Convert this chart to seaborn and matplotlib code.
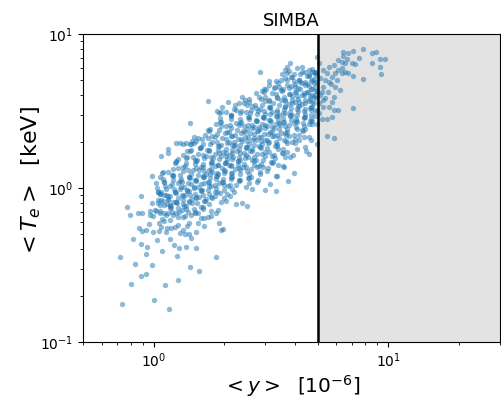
import matplotlib
matplotlib.use("Agg")
import matplotlib.pyplot as plt
import seaborn as sns
import pandas as pd

# ---- data (x: <y> [1e-6], y: <T_e> [keV]) ----
edge_x = [0.73, 0.72, 0.80, 0.83, 0.88, 0.93, 0.98, 1.00, 1.12, 1.16, 1.27, 1.43, 1.56, 1.84, 1.26,
          0.82, 0.88, 0.94, 0.93, 1.09, 1.03, 1.17, 1.22, 1.28, 1.38, 1.51, 0.77, 0.79, 0.86, 0.89,
          0.97, 0.97, 0.87, 0.89, 0.99, 1.05, 1.07, 1.11, 1.15, 1.20, 1.05, 1.08, 1.14, 1.19, 1.23,
          1.17, 1.27, 1.32, 1.40, 1.39, 1.42, 1.44, 1.54, 1.64, 1.71, 1.84, 1.90, 1.94, 1.98, 1.88,
          1.54, 1.29, 1.36, 0.88, 0.98, 1.04, 1.06, 1.08, 1.11, 1.15, 1.17, 1.21, 1.11, 0.98, 1.06,
          1.08, 1.15, 1.15, 1.25, 1.29, 1.33, 1.37, 1.43, 1.49, 1.43, 1.49, 1.54, 1.70, 1.86, 1.95,
          2.08, 2.22, 2.39, 2.45, 2.60, 2.84, 2.96, 3.69, 3.83, 3.71, 4.29, 4.58, 4.73, 4.99, 4.61,
          4.48, 4.69, 3.96, 3.75, 3.33, 2.99, 2.64, 2.51, 2.39, 2.24, 2.03, 3.31, 3.37, 3.13, 3.60,
          3.83, 3.65, 4.02, 4.16, 4.44, 4.29, 4.58]
edge_y = [0.176, 0.356, 0.238, 0.32, 0.267, 0.277, 0.318, 0.187, 0.235, 0.165, 0.254, 0.305, 0.288, 0.355, 0.36,
          0.464, 0.433, 0.412, 0.372, 0.39, 0.457, 0.469, 0.427, 0.408, 0.416, 0.41, 0.749, 0.665, 0.688, 0.685,
          0.713, 0.671, 0.55, 0.528, 0.521, 0.526, 0.692, 0.692, 0.685, 0.695, 0.596, 0.556, 0.553, 0.547, 0.556,
          0.62, 0.645, 0.72, 0.702, 0.566, 0.505, 0.476, 0.692, 0.636, 0.645, 0.692, 0.59, 0.534, 0.544, 0.72,
          0.596, 0.513, 0.50, 0.892, 0.795, 0.803, 0.919, 0.937, 0.901, 0.848, 0.776, 0.815, 0.776, 1.20, 1.185,
          1.62, 1.70, 1.79, 1.95, 1.95, 1.94, 1.95, 1.94, 1.97, 2.64, 2.15, 2.11, 3.67, 3.18, 3.34,
          3.63, 3.44, 3.92, 3.73, 3.21, 5.66, 4.39, 6.14, 6.51, 5.56, 6.14, 5.84, 5.70, 1.93, 1.67,
          1.74, 2.05, 1.245, 1.11, 0.951, 0.971, 0.985, 0.768, 0.795, 0.784, 0.82, 1.20, 1.197, 1.056, 1.37,
          1.58, 1.58, 1.95, 2.05, 1.855, 2.38, 2.59]

high_x = [4.99, 5.05, 5.48, 5.90, 7.09, 6.10, 5.90, 5.75, 5.48, 5.22, 5.05, 5.30, 5.61, 5.79, 5.87,
          5.39, 5.22, 5.30, 5.57, 5.75, 5.94, 6.14, 6.34, 6.55, 6.77, 7.11, 7.84, 7.22, 7.51, 7.84,
          7.09, 6.45, 6.77, 6.14, 6.34, 6.66, 6.99, 8.50, 8.92, 9.22, 9.68, 8.50, 9.22, 9.37, 6.04,
          6.24, 5.53, 5.39, 5.14, 5.30, 5.57, 5.85, 5.30, 5.05, 6.55, 6.34, 5.94, 5.48, 5.14, 5.70, 6.40]
high_y = [7.13, 6.45, 2.17, 2.11, 3.29, 3.21, 3.21, 2.91, 2.82, 2.81, 3.05, 3.38, 3.34, 3.63, 3.92,
          3.83, 4.22, 4.55, 4.90, 5.28, 5.56, 5.84, 5.99, 5.70, 5.56, 5.34, 5.13, 6.38, 6.96, 7.95,
          7.79, 7.67, 7.49, 6.78, 6.62, 6.85, 6.45, 7.49, 7.67, 6.93, 6.87, 6.51, 6.14, 5.50, 5.03,
          4.33, 4.22, 5.03, 5.16, 5.84, 6.14, 6.29, 3.73, 3.55, 6.45, 5.56, 4.55, 5.56, 4.02, 4.70, 7.20]

core_x = [3.77, 4.09, 4.44, 4.73, 4.92,
          3.53, 3.89, 4.22, 4.58, 4.89,
          3.31, 3.65, 3.96, 4.16, 4.44, 4.73, 4.92,
          3.10, 3.42, 3.71, 4.02, 4.29, 4.58, 4.81,
          2.95, 3.26, 3.53, 3.77, 4.02, 4.22, 4.51, 4.73, 4.92,
          2.72, 3.00, 3.31, 3.59, 3.83, 4.09, 4.36, 4.66, 4.89,
          2.55, 2.86, 3.10, 3.36, 3.65, 3.89, 4.16, 4.44, 4.73, 4.92,
          2.31, 2.64, 2.91, 3.15, 3.42, 3.65, 3.89, 4.16, 4.44, 4.73,
          2.03, 2.24, 2.47, 2.72, 2.95, 3.15, 3.36, 3.59, 3.83, 4.09, 4.36, 4.66, 4.89,
          1.90, 2.13, 2.34, 2.54, 2.75, 2.94, 3.14, 3.35, 3.58, 3.81, 4.08, 4.42, 4.71,
          1.94, 2.14, 2.36, 2.56, 2.77, 2.97, 3.16, 3.38, 3.60, 3.85, 4.10, 4.38, 4.75,
          1.84, 2.03, 2.24, 2.43, 2.64, 2.81, 3.00, 3.20, 3.42, 3.65, 3.96, 4.36, 4.73,
          1.72, 1.90, 2.09, 2.26, 2.46, 2.63, 2.80, 2.99, 3.19, 3.41, 3.69, 4.08,
          1.65, 1.82, 2.01, 2.17, 2.36, 2.52, 2.69, 2.87, 3.06, 3.26, 3.49, 3.78, 4.17, 4.60,
          1.52, 1.70, 1.87, 2.03, 2.20, 2.35, 2.51, 2.68, 2.86, 3.05, 3.31, 3.59, 3.89,
          1.44, 1.59, 1.74, 1.90, 2.06, 2.20, 2.34, 2.50, 2.67, 2.85, 3.09, 3.35, 3.69,
          1.43, 1.57, 1.73, 1.88, 2.04, 2.17, 2.33, 2.48, 2.64, 2.87, 3.11, 3.38, 3.72, 4.10,
          1.33, 1.47, 1.62, 1.76, 1.90, 2.03, 2.17, 2.31, 2.47, 2.68, 2.91, 3.20, 3.53,
          1.24, 1.37, 1.51, 1.64, 1.77, 1.90, 2.03, 2.16, 2.30, 2.46, 2.67, 2.94, 3.24,
          1.23, 1.36, 1.50, 1.62, 1.76, 1.88, 2.01, 2.14, 2.28, 2.48, 2.69, 2.92, 3.21, 3.55,
          1.15, 1.27, 1.40, 1.52, 1.645, 1.76, 1.87, 2.00, 2.13, 2.31, 2.51, 2.77, 3.05,
          1.09, 1.21, 1.30, 1.42, 1.54, 1.64, 1.74, 1.86, 1.99, 2.16, 2.34, 2.59, 2.85,
          1.11, 1.21, 1.32, 1.43, 1.52, 1.62, 1.73, 1.85, 1.98, 2.14, 2.33, 2.52, 2.77,
          1.02, 1.17, 1.27, 1.35, 1.445, 1.54, 1.645, 1.76, 1.90, 2.07, 2.24, 2.47,
          1.04, 1.13, 1.23, 1.30, 1.39, 1.49, 1.59, 1.70, 1.83, 1.99, 2.20,
          1.06, 1.15, 1.25, 1.34, 1.43, 1.52, 1.62, 1.76, 1.91, 2.11,
          1.10, 1.15, 1.25, 1.33, 1.42, 1.52, 1.645, 1.78, 1.94,
          1.07, 1.19, 1.26, 1.35, 1.46, 1.59, 1.72,
          1.06, 1.17, 1.28, 1.38, 1.50, 1.62, 1.76,
          0.99, 1.09, 1.21, 1.33, 1.445, 1.59, 1.76,
          0.96, 1.11, 1.27, 1.42, 1.645,
          0.93, 1.13, 1.33, 1.52]
core_y = [5.75, 6.05, 5.69, 5.90, 5.67,
          5.47, 5.26, 5.53, 5.37, 5.58,
          4.98, 5.18, 4.93, 5.06, 4.86, 5.03, 4.86,
          4.69, 4.51, 4.67, 4.51, 4.79, 4.60, 4.84,
          4.18, 4.44, 4.27, 4.49, 4.22, 4.37, 4.20, 4.42, 4.29,
          4.16, 3.92, 4.06, 3.90, 4.10, 3.98, 4.14, 3.94, 4.04,
          3.62, 3.80, 3.69, 3.84, 3.66, 3.75, 3.60, 3.73, 3.60, 3.82,
          3.56, 3.39, 3.48, 3.34, 3.46, 3.34, 3.55, 3.41, 3.58, 3.37,
          3.10, 3.21, 3.10, 3.29, 3.16, 3.33, 3.13, 3.24, 3.12, 3.27, 3.18, 3.31, 3.15,
          3.05, 2.94, 3.09, 2.91, 3.01, 2.89, 3.04, 2.95, 3.07, 2.92, 2.99, 2.88, 2.98,
          2.69, 2.79, 2.68, 2.82, 2.73, 2.84, 2.70, 2.77, 2.67, 2.76, 2.67, 2.83, 2.72,
          2.62, 2.54, 2.65, 2.52, 2.58, 2.48, 2.57, 2.48, 2.63, 2.53, 2.66, 2.51, 2.60,
          2.33, 2.39, 2.30, 2.38, 2.30, 2.44, 2.34, 2.47, 2.32, 2.40, 2.31, 2.43,
          2.21, 2.13, 2.27, 2.18, 2.29, 2.15, 2.23, 2.15, 2.25, 2.19, 2.28, 2.17, 2.22, 2.13,
          2.02, 2.12, 2.00, 2.07, 1.99, 2.09, 2.03, 2.11, 2.01, 2.06, 1.98, 2.05, 1.98,
          1.92, 1.84, 1.94, 1.88, 1.96, 1.86, 1.91, 1.84, 1.90, 1.84, 1.95, 1.87, 1.97,
          1.75, 1.82, 1.73, 1.77, 1.70, 1.765, 1.70, 1.81, 1.74, 1.83, 1.72, 1.78, 1.71, 1.80,
          1.65, 1.58, 1.64, 1.58, 1.68, 1.61, 1.70, 1.60, 1.65, 1.59, 1.67, 1.62, 1.69,
          1.47, 1.56, 1.50, 1.57, 1.48, 1.54, 1.48, 1.55, 1.50, 1.57, 1.49, 1.53, 1.47,
          1.46, 1.38, 1.43, 1.37, 1.44, 1.40, 1.45, 1.38, 1.42, 1.36, 1.41, 1.36, 1.45, 1.39,
          1.27, 1.34, 1.30, 1.35, 1.28, 1.32, 1.26, 1.31, 1.26, 1.34, 1.29, 1.36, 1.28,
          1.25, 1.19, 1.22, 1.17, 1.21, 1.17, 1.24, 1.20, 1.26, 1.18, 1.23, 1.18, 1.24,
          1.09, 1.13, 1.09, 1.155, 1.11, 1.17, 1.10, 1.14, 1.09, 1.15, 1.12, 1.16, 1.10,
          1.07, 1.03, 1.08, 1.02, 1.06, 1.016, 1.07, 1.035, 1.08, 1.025, 1.05, 1.01,
          0.947, 0.981, 0.943, 0.990, 0.961, 1.0, 0.952, 0.976, 0.938, 0.971, 0.938,
          0.919, 0.892, 0.928, 0.883, 0.906, 0.870, 0.901, 0.870, 0.924, 0.887,
          0.819, 0.840, 0.808, 0.836, 0.808, 0.857, 0.823, 0.866, 0.815,
          0.775, 0.749, 0.794, 0.763, 0.803, 0.756, 0.783,
          0.709, 0.746, 0.702, 0.727, 0.699, 0.734, 0.713,
          0.659, 0.633, 0.665, 0.645, 0.672, 0.639, 0.655,
          0.584, 0.608, 0.578, 0.593, 0.570,
          0.537, 0.516, 0.534, 0.516]

core2_x = [3.65, 3.95, 4.30, 4.62, 4.85,
           3.51, 3.84, 4.15, 4.49, 4.82, 4.95,
           3.12, 3.39, 3.71, 4.00, 4.21, 4.49, 4.71,
           3.02, 3.30, 3.58, 3.86, 4.14, 4.42, 4.68, 4.88,
           2.90, 3.20, 3.49, 3.77, 4.03, 4.28, 4.56, 4.74, 4.96,
           2.55, 2.81, 3.10, 3.36, 3.63, 3.88, 4.13, 4.39, 4.66, 4.81,
           2.42, 2.70, 2.98, 3.22, 3.50, 3.77, 4.02, 4.30, 4.58, 4.83,
           2.20, 2.50, 2.85, 3.11, 3.36, 3.63, 3.86, 4.12, 4.41, 4.69, 4.97,
           1.93, 2.145, 2.36, 2.58, 2.79, 3.00, 3.20, 3.41, 3.63, 3.88, 4.13, 4.41, 4.68,
           1.92, 2.13, 2.34, 2.52, 2.73, 2.92, 3.13, 3.34, 3.56, 3.80, 4.05, 4.36, 4.68, 4.90,
           1.91, 2.11, 2.33, 2.52, 2.72, 2.91, 3.12, 3.32, 3.55, 3.79, 4.05, 4.33, 4.66, 4.97,
           1.74, 1.93, 2.13, 2.31, 2.50, 2.67, 2.85, 3.04, 3.26, 3.47, 3.72, 4.04, 4.41,
           1.70, 1.86, 2.05, 2.22, 2.40, 2.58, 2.76, 2.96, 3.15, 3.37, 3.62, 3.95, 4.35,
           1.61, 1.78, 1.96, 2.13, 2.30, 2.46, 2.63, 2.81, 3.00, 3.20, 3.41, 3.67, 4.00, 4.39,
           1.46, 1.62, 1.78, 1.93, 2.09, 2.23, 2.38, 2.54, 2.72, 2.91, 3.12, 3.37, 3.66,
           1.44, 1.58, 1.73, 1.88, 2.03, 2.17, 2.32, 2.47, 2.64, 2.82, 3.03, 3.28, 3.58,
           1.39, 1.54, 1.69, 1.83, 1.98, 2.12, 2.27, 2.42, 2.57, 2.77, 3.00, 3.26, 3.57, 3.94,
           1.27, 1.39, 1.53, 1.67, 1.80, 1.93, 2.06, 2.19, 2.34, 2.52, 2.73, 2.98, 3.30,
           1.24, 1.37, 1.50, 1.63, 1.76, 1.88, 2.01, 2.14, 2.28, 2.44, 2.63, 2.86, 3.16,
           1.21, 1.33, 1.47, 1.59, 1.72, 1.83, 1.96, 2.09, 2.22, 2.40, 2.59, 2.82, 3.08, 3.38,
           1.10, 1.21, 1.33, 1.44, 1.56, 1.67, 1.77, 1.89, 2.02, 2.16, 2.34, 2.56, 2.83,
           1.10, 1.20, 1.31, 1.42, 1.52, 1.63, 1.74, 1.85, 1.98, 2.14, 2.32, 2.55, 2.80,
           1.11, 1.20, 1.30, 1.40, 1.50, 1.60, 1.71, 1.82, 1.96, 2.12, 2.32, 2.54,
           1.03, 1.12, 1.22, 1.31, 1.39, 1.49, 1.60, 1.72, 1.84, 2.00, 2.16,
           1.04, 1.13, 1.23, 1.32, 1.41, 1.50, 1.61, 1.73, 1.87, 2.05,
           1.08, 1.17, 1.27, 1.36, 1.46, 1.56, 1.68, 1.82, 2.00,
           1.04, 1.14, 1.24, 1.33, 1.42, 1.53, 1.66,
           1.01, 1.17, 1.27, 1.37, 1.49, 1.62,
           1.02, 1.13, 1.24, 1.36, 1.50]
core2_y = [5.80, 5.52, 5.66, 5.44, 5.63,
           5.04, 5.22, 5.04, 5.35, 5.14, 5.41,
           4.97, 4.78, 5.02, 4.73, 4.90, 4.71, 4.95,
           4.39, 4.55, 4.37, 4.59, 4.46, 4.64, 4.41, 4.52,
           4.25, 4.13, 4.30, 4.09, 4.19, 4.03, 4.17, 4.03, 4.27,
           3.79, 3.89, 3.74, 3.87, 3.74, 3.97, 3.81, 4.01, 3.77, 3.91,
           3.59, 3.47, 3.68, 3.54, 3.72, 3.50, 3.63, 3.49, 3.66, 3.55,
           3.28, 3.45, 3.25, 3.36, 3.23, 3.40, 3.30, 3.43, 3.26, 3.35, 3.22,
           3.12, 3.00, 3.15, 3.06, 3.18, 3.03, 3.11, 2.98, 3.09, 2.98, 3.17, 3.04, 3.20,
           2.84, 2.96, 2.81, 2.88, 2.77, 2.87, 2.77, 2.94, 2.83, 2.97, 2.80, 2.90, 2.79, 2.93,
           2.67, 2.57, 2.66, 2.57, 2.73, 2.62, 2.76, 2.59, 2.69, 2.58, 2.71, 2.63, 2.74, 2.61,
           2.40, 2.54, 2.44, 2.57, 2.42, 2.50, 2.41, 2.53, 2.46, 2.55, 2.43, 2.49, 2.40,
           2.37, 2.23, 2.31, 2.22, 2.34, 2.27, 2.36, 2.24, 2.30, 2.21, 2.29, 2.21, 2.35,
           2.07, 2.17, 2.11, 2.19, 2.09, 2.14, 2.06, 2.13, 2.06, 2.18, 2.10, 2.21, 2.08, 2.15,
           2.03, 1.935, 1.985, 1.91, 1.975, 1.91, 2.02, 1.945, 2.05, 1.925, 1.995, 1.92, 2.01,
           1.77, 1.83, 1.77, 1.875, 1.80, 1.90, 1.785, 1.85, 1.78, 1.87, 1.81, 1.885, 1.79,
           1.74, 1.675, 1.76, 1.66, 1.72, 1.65, 1.735, 1.68, 1.75, 1.665, 1.71, 1.64, 1.70, 1.64,
           1.54, 1.59, 1.53, 1.61, 1.56, 1.625, 1.545, 1.585, 1.525, 1.578, 1.525, 1.62, 1.555,
           1.49, 1.45, 1.51, 1.435, 1.47, 1.415, 1.464, 1.415, 1.50, 1.44, 1.52, 1.43, 1.48,
           1.33, 1.365, 1.31, 1.359, 1.31, 1.39, 1.34, 1.41, 1.325, 1.37, 1.32, 1.385, 1.345, 1.40,
           1.261, 1.22, 1.29, 1.24, 1.31, 1.23, 1.27, 1.225, 1.285, 1.25, 1.30, 1.235, 1.27,
           1.15, 1.21, 1.14, 1.18, 1.135, 1.19, 1.16, 1.20, 1.145, 1.175, 1.13, 1.169, 1.13,
           1.097, 1.055, 1.108, 1.075, 1.12, 1.064, 1.09, 1.05, 1.086, 1.05, 1.113, 1.07,
           0.998, 1.038, 0.988, 1.013, 0.974, 1.008, 0.974, 1.033, 0.993, 1.044, 0.983,
           0.940, 0.903, 0.935, 0.903, 0.958, 0.921, 0.969, 0.912, 0.944, 0.908,
           0.838, 0.890, 0.855, 0.899, 0.846, 0.877, 0.843, 0.885, 0.859,
           0.834, 0.785, 0.813, 0.782, 0.821, 0.797, 0.829,
           0.725, 0.762, 0.740, 0.769, 0.732, 0.751,
           0.706, 0.671, 0.688, 0.662, 0.685]

y_cut = 5.0
x_limits = (0.5, 30)
y_limits = (0.1, 10)
title = "SIMBA"

df = pd.DataFrame({
    "y_sz": edge_x + high_x + core_x + core2_x,
    "T_e": edge_y + high_y + core_y + core2_y,
})

fig = plt.figure(figsize=(5.01, 3.98), dpi=100)
ax = fig.add_axes([83 / 501, 1 - 342 / 398, 417 / 501, 308 / 398])

ax.set_xscale("log")
ax.set_yscale("log")
ax.axvspan(y_cut, x_limits[1], color="#e3e3e3", zorder=0, lw=0)
sns.scatterplot(data=df, x="y_sz", y="T_e", ax=ax, s=15, alpha=0.5,
                color="#1f77b4", linewidth=0, zorder=2)
ax.axvline(y_cut, color="black", lw=1.8, zorder=3)

ax.set_xlim(*x_limits)
ax.set_ylim(*y_limits)
ax.set_title(title, fontsize=13)
ax.set_xlabel(r"$<y>$  [$10^{-6}$]", fontsize=14.5, labelpad=2)
ax.set_ylabel(r"$<T_e>$  [keV]", fontsize=16)
ax.yaxis.set_label_coords(-0.095, 0.52)
ax.tick_params(axis="both", which="major", labelsize=10)

fig.savefig("out.png", dpi=100)
